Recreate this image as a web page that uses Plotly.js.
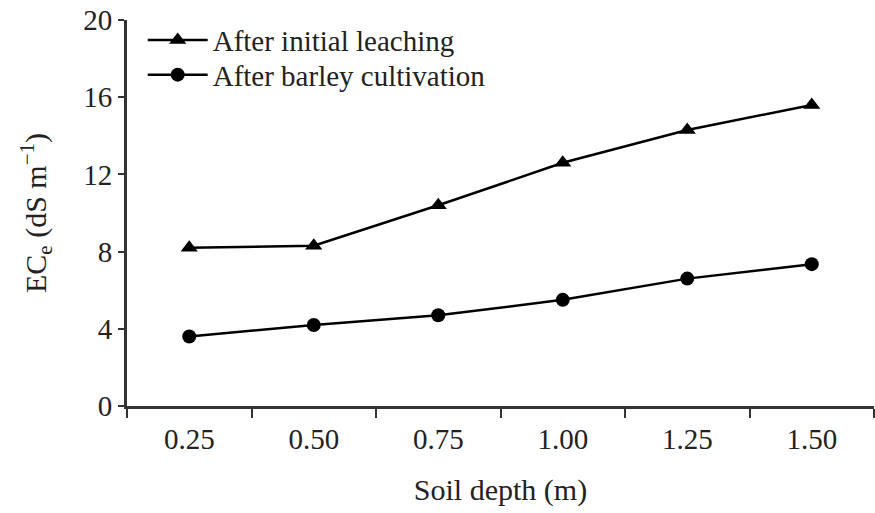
<!DOCTYPE html>
<html>
<head>
<meta charset="utf-8">
<script src="https://cdn.plot.ly/plotly-3.0.1.min.js"></script>
<style>html,body{margin:0;padding:0;background:#fff;}#chart{width:875px;height:513px;}</style>
</head>
<body>
<div id="chart"></div>
<script>
var depths = ["0.25", "0.50", "0.75", "1.00", "1.25", "1.50"];
var afterLeaching = [8.2, 8.3, 10.4, 12.6, 14.3, 15.6];
var afterBarley = [3.6, 4.2, 4.7, 5.5, 6.6, 7.35];
var seriesNames = ["After initial leaching", "After barley cultivation"];
var yTicks = [0, 4, 8, 12, 16, 20];

var fontFam = "Liberation Serif, Times New Roman, serif";
var txt = "#222";
var traces = [
  {x: depths, y: afterLeaching, name: seriesNames[0], type: "scatter", mode: "lines+markers", legend: "legend",
   line: {color: "#000", width: 2.5}, marker: {symbol: "triangle-up", size: 15, color: "#000"}},
  {x: depths, y: afterBarley, name: seriesNames[1], type: "scatter", mode: "lines+markers", legend: "legend2",
   line: {color: "#000", width: 2.5}, marker: {symbol: "circle", size: 14, color: "#000"}}
];
var legFont = {family: fontFam, size: 29, color: txt};
var layout = {
  width: 875, height: 513,
  margin: {l: 127, r: 1, t: 20, b: 107},
  paper_bgcolor: "#fff", plot_bgcolor: "#fff",
  font: {family: fontFam, size: 30, color: txt},
  showlegend: true,
  legend: {x: 0.021, y: 0.948, xanchor: "left", yanchor: "middle", bgcolor: "rgba(0,0,0,0)",
           itemwidth: 60, font: legFont},
  legend2: {x: 0.021, y: 0.858, xanchor: "left", yanchor: "middle", bgcolor: "rgba(0,0,0,0)",
           itemwidth: 60, font: legFont},
  xaxis: {type: "category", range: [-0.5, 5.5], tickson: "boundaries", ticks: "outside", ticklen: 9,
          tickwidth: 2, tickcolor: "#333", showline: true, linecolor: "#333", linewidth: 3,
          showgrid: false, zeroline: false, fixedrange: true, ticklabelstandoff: 5,
          tickfont: {family: fontFam, size: 29, color: txt},
          title: {text: "Soil depth (m)", standoff: 26, font: {family: fontFam, size: 30, color: txt}}},
  yaxis: {range: [0, 20], tickvals: yTicks, ticks: "outside", ticklen: 6, tickwidth: 2, tickcolor: "#333",
          showline: true, linecolor: "#333", linewidth: 3, showgrid: false, zeroline: false,
          tickfont: {family: fontFam, size: 29, color: txt},
          title: {text: "EC<sub>e</sub> (dS m<sup>\u22121</sup>)", standoff: 28, font: {family: fontFam, size: 30, color: txt}}}
};
Plotly.newPlot("chart", traces, layout, {displayModeBar: false, staticPlot: true});
</script>
</body>
</html>
